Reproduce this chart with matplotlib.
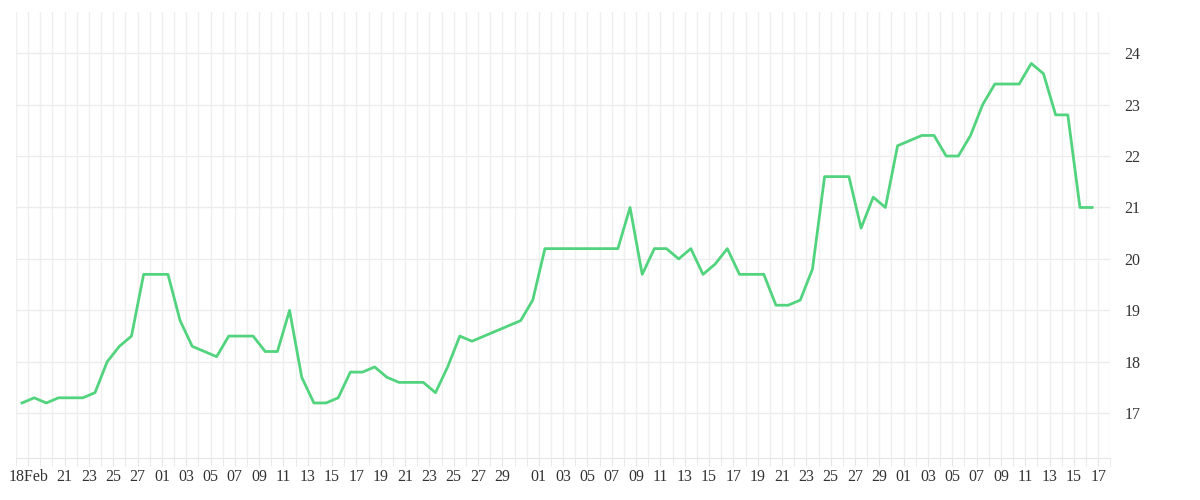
import matplotlib
matplotlib.use("Agg")
import matplotlib.pyplot as plt

day_idx = [0,1,2,3,5,6,7,8,9,10,12,13,14,16,17,19,20,21,22,23,24,25,26,27,28,29,30,31,33,34,35,36,37,41,42,43,49,50,51,52,53,54,55,56,57,58,59,61,62,63,64,65,66,68,69,70,71,72,74,75,76,77,78,79,80,82,83,84,85,86,87,88]
values = [17.2,17.3,17.2,17.3,17.3,17.4,18.0,18.3,18.5,19.7,19.7,18.8,18.3,18.1,18.5,18.5,18.2,18.2,19.0,17.7,17.2,17.2,17.3,17.8,17.8,17.9,17.7,17.6,17.6,17.4,17.9,18.5,18.4,18.8,19.2,20.2,20.2,21.0,19.7,20.2,20.2,20.0,20.2,19.7,19.9,20.2,19.7,19.7,19.1,19.1,19.2,19.8,21.6,21.6,20.6,21.2,21.0,22.2,22.4,22.4,22.0,22.0,22.4,23.0,23.4,23.4,23.8,23.6,22.8,22.8,21.0,21.0]
tick_days = [0,3,5,7,9,11,13,15,17,19,21,23,25,27,29,31,33,35,37,39,42,44,46,48,50,52,54,56,58,60,62,64,66,68,70,72,74,76,78,80,82,84,86,88]
tick_labels = ["18Feb","21","23","25","27","01","03","05","07","09","11","13","15","17","19","21","23","25","27","29",
               "01","03","05","07","09","11","13","15","17","19","21","23","25","27","29",
               "01","03","05","07","09","11","13","15","17"]
y_ticks = [17,18,19,20,21,22,23,24]

fig = plt.figure(figsize=(12,5), dpi=100)
ax = fig.add_axes([0.0133, 0.084, 0.912, 0.892])
for k in range(91):
    ax.axvline(k-0.5, color="#efefef", lw=1, zorder=0)
for v in y_ticks:
    ax.axhline(v, color="#ececec", lw=1, zorder=0)
ax.plot(day_idx, values, color="#52d47f", lw=2.0, zorder=3)
ax.set_xlim(-0.5, 89.5)
ax.set_ylim(16.13, 24.8)
for s in ["top","left","right"]:
    ax.spines[s].set_visible(False)
ax.spines["bottom"].set_color("#e6e6e6")
ax.set_xticks([d+0.5 for d in tick_days])
ax.set_xticklabels(tick_labels, family="Liberation Serif", fontsize=11.5, color="#333333")
ax.set_xticks([k-0.5 for k in range(91)], minor=True)
ax.tick_params(axis="x", which="both", length=6, color="#e6e6e6", pad=2)
ax.set_yticks(y_ticks)
ax.set_yticklabels([str(v) for v in y_ticks], family="Liberation Serif", fontsize=11.5, color="#333333")
ax.yaxis.tick_right()
ax.tick_params(axis="y", length=0, pad=10)
fig.savefig("out.png", dpi=100)
